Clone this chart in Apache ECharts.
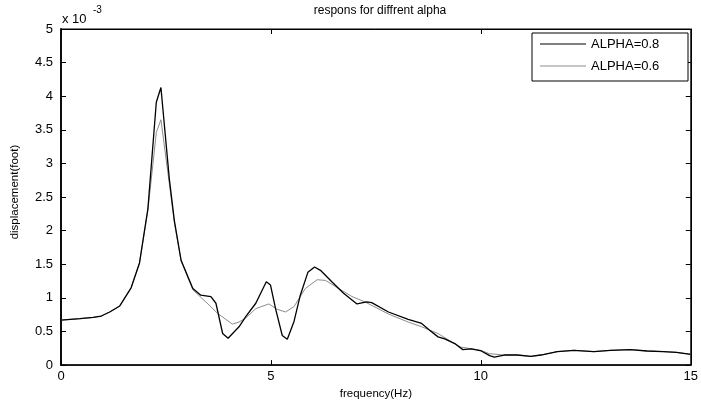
<!DOCTYPE html>
<html>
<head>
<meta charset="utf-8">
<script src="https://cdn.jsdelivr.net/npm/echarts@6/dist/echarts.min.js"></script>
<style>
html,body{margin:0;padding:0;background:#fff;}
#c{width:701px;height:405px;}
</style>
</head>
<body>
<div id="c"></div>
<script>
// values in units of 1e-3 foot
var freqA = [0,0.45,0.77,0.96,1.16,1.40,1.67,1.87,2.07,2.27,2.38,2.58,2.70,2.86,3.14,3.33,3.57,3.69,3.85,3.98,4.24,4.40,4.64,4.89,4.99,5.11,5.27,5.39,5.55,5.70,5.88,6.04,6.18,6.45,6.73,7.05,7.28,7.40,7.80,8.27,8.59,8.78,8.98,9.14,9.38,9.57,9.77,10.01,10.21,10.32,10.56,10.87,11.19,11.43,11.82,12.22,12.69,13.09,13.56,13.96,14.35,14.66,15];
var dispA = [0.67,0.69,0.71,0.73,0.79,0.88,1.15,1.52,2.33,3.91,4.13,2.77,2.15,1.56,1.14,1.04,1.02,0.92,0.47,0.40,0.57,0.72,0.92,1.24,1.19,0.84,0.44,0.385,0.65,1.04,1.38,1.46,1.41,1.24,1.07,0.91,0.94,0.93,0.79,0.68,0.62,0.52,0.42,0.39,0.32,0.23,0.24,0.21,0.14,0.12,0.15,0.15,0.13,0.15,0.20,0.22,0.20,0.22,0.23,0.21,0.20,0.19,0.16];
var freqB = [0,0.45,0.77,0.96,1.16,1.40,1.67,1.87,2.07,2.27,2.38,2.58,2.70,2.86,3.14,3.45,3.73,4.08,4.24,4.40,4.64,4.95,5.15,5.35,5.55,5.82,6.10,6.30,6.61,6.93,7.24,7.80,8.27,8.59,8.98,9.50,10.0,10.2,10.56,10.87,11.19,11.43,11.82,12.22,12.69,13.09,13.56,13.96,14.35,14.66,15];
var dispB = [0.67,0.69,0.71,0.73,0.79,0.88,1.15,1.52,2.30,3.46,3.65,2.70,2.12,1.55,1.12,0.94,0.77,0.61,0.64,0.70,0.84,0.91,0.83,0.79,0.87,1.14,1.27,1.26,1.14,1.02,0.94,0.76,0.64,0.57,0.47,0.27,0.22,0.17,0.15,0.15,0.13,0.15,0.20,0.22,0.20,0.22,0.23,0.21,0.20,0.19,0.16];
var xTicks = [0,5,10,15];
var yTicks = ['0','0.5','1','1.5','2','2.5','3','3.5','4','4.5','5'];
var seriesNames = ['ALPHA=0.8','ALPHA=0.6'];

function pairs(xs, ys){ return xs.map(function(x,i){return [x, ys[i]];}); }

var chart = echarts.init(document.getElementById('c'), null, {renderer:'canvas'});
var font = 'Liberation Sans, Arial, sans-serif';
var option = {
  animation:false,
  backgroundColor:'#fff',
  grid:{left:61, right:7, top:29, bottom:38, show:true, borderColor:'#000', borderWidth:1},
  legend:{show:false},
  xAxis:[
    {type:'value', min:0, max:15, interval:5, position:'bottom',
     name:'frequency(Hz)', nameLocation:'middle', nameGap:22,
     nameTextStyle:{fontFamily:font, fontSize:11.5, color:'#000'},
     axisLine:{show:true, onZero:false, lineStyle:{color:'#000', width:1.5}},
     axisTick:{show:true, inside:true, length:5, lineStyle:{color:'#000'}},
     axisLabel:{fontFamily:font, fontSize:13, color:'#000', margin:5,
       formatter:function(v){ return xTicks.indexOf(v) >= 0 ? String(v) : ''; }},
     splitLine:{show:false}},
    {type:'value', min:0, max:15, interval:5, position:'top',
     axisLine:{show:true, onZero:false, lineStyle:{color:'#000', width:1}},
     axisTick:{show:true, inside:true, length:5, lineStyle:{color:'#000'}},
     axisLabel:{show:false}, splitLine:{show:false}}
  ],
  yAxis:[
    {type:'value', min:0, max:5, interval:0.5, position:'left',
     name:'displacement(foot)', nameLocation:'middle', nameGap:40, nameRotate:90,
     nameTextStyle:{fontFamily:font, fontSize:11.5, color:'#000', padding:[0,0,0,10]},
     axisLine:{show:true, onZero:false, lineStyle:{color:'#000', width:1.8}},
     axisTick:{show:true, inside:true, length:5, lineStyle:{color:'#000'}},
     axisLabel:{fontFamily:font, fontSize:13, color:'#000', margin:8,
       formatter:function(v){ var i=Math.round(v*2); return yTicks[i]; }},
     splitLine:{show:false}},
    {type:'value', min:0, max:5, interval:0.5, position:'right',
     axisLine:{show:true, onZero:false, lineStyle:{color:'#000', width:1}},
     axisTick:{show:true, inside:true, length:5, lineStyle:{color:'#000'}},
     axisLabel:{show:false}, splitLine:{show:false}}
  ],
  graphic:[
    {type:'text', x:380, y:11, style:{text:'respons for diffrent alpha', fontFamily:font, fontSize:12,
      fill:'#000', textAlign:'center', textVerticalAlign:'middle'}},
    {type:'text', x:62, y:19, style:{text:'x 10', fontFamily:font, fontSize:13, fill:'#000', textVerticalAlign:'middle'}},
    {type:'text', x:93, y:10, style:{text:'-3', fontFamily:font, fontSize:10, fill:'#000', textVerticalAlign:'middle'}},
    {type:'rect', shape:{x:532, y:33, width:156, height:48},
     style:{fill:'#fff', stroke:'#000', lineWidth:1}, z:100},
    {type:'line', shape:{x1:540, y1:44, x2:586, y2:44}, style:{stroke:'#000', lineWidth:1.2}, z:101},
    {type:'text', x:591, y:44, style:{text:seriesNames[0], fontFamily:font, fontSize:13, fill:'#000', textVerticalAlign:'middle'}, z:101},
    {type:'line', shape:{x1:540, y1:66, x2:586, y2:66}, style:{stroke:'#8c8c8c', lineWidth:1}, z:101},
    {type:'text', x:591, y:66, style:{text:seriesNames[1], fontFamily:font, fontSize:13, fill:'#000', textVerticalAlign:'middle'}, z:101}
  ],
  series:[
    {name:seriesNames[1], type:'line', data:pairs(freqB, dispB), showSymbol:false, symbol:'none',
     lineStyle:{color:'#8c8c8c', width:1}, z:2},
    {name:seriesNames[0], type:'line', data:pairs(freqA, dispA), showSymbol:false, symbol:'none',
     lineStyle:{color:'#000', width:1.3}, z:3}
  ]
};
chart.setOption(option);
</script>
</body>
</html>
